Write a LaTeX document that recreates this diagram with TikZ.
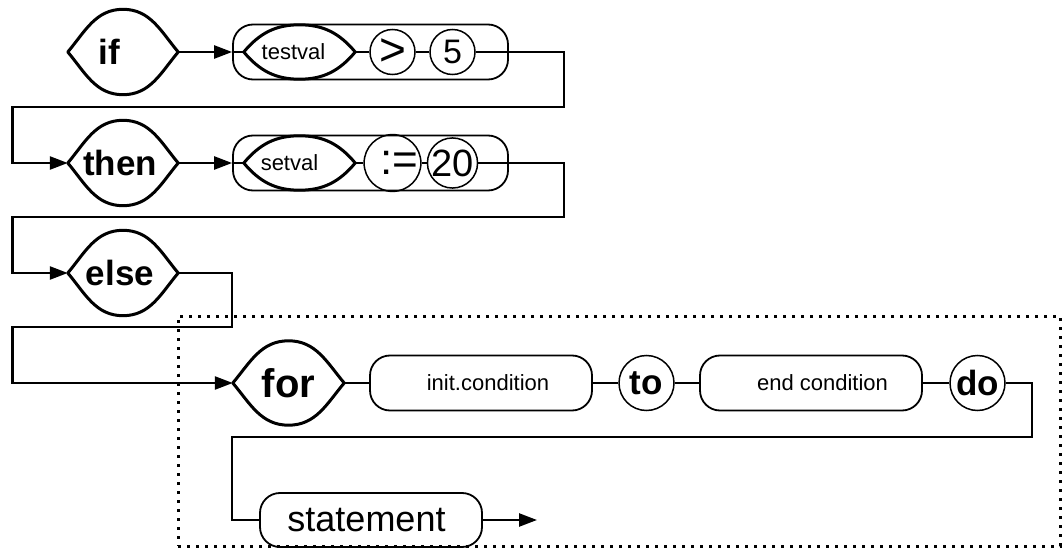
\documentclass[tikz,border=0pt]{standalone}
\usepackage{fontspec}
\setmainfont{Liberation Sans}
\usetikzlibrary{arrows.meta}
\newcommand\drawlens[1]{\draw[lensline] (#1.west) to[out=50,in=180] (#1.north) to[out=0,in=130] (#1.east) to[out=-130,in=0] (#1.south) to[out=180,in=-50] (#1.west);}
\tikzset{
 conn/.style={line width=2.4pt},
 arr/.style={conn,-{Triangle[length=18pt,width=13pt]}},
 lensnode/.style={minimum width=110pt,minimum height=85pt,inner sep=0pt},
 lensline/.style={line width=3pt,line cap=round,line join=round},
 pill/.style={draw,line width=1.8pt,rounded corners=20pt,minimum height=55pt,inner sep=0pt},
 circ/.style={draw,circle,line width=1.5pt,inner sep=0pt,minimum size=45pt},
 bigcirc/.style={circ,minimum size=55pt},
 kw/.style={font=\fontsize{35}{40}\selectfont\bfseries},
 small/.style={font=\fontsize{22}{26}\selectfont},
 dotbox/.style={draw,line width=3pt,dash pattern=on 3pt off 6pt,inner sep=0pt},
}
\begin{document}
\begin{tikzpicture}[x=1pt,y=-1pt]
\useasboundingbox (0,0) rectangle (1063,548);
% loop frame
\node[dotbox,minimum width=882pt,minimum height=230pt] (loop) at (619,431) {};
% row 1
\node[lensnode,kw] (if) at (123,52) {if\hspace*{28pt}};
\node[pill,minimum width=275pt] (g1) at (370.5,52) {};
\node[lensnode,small,minimum width=111pt,minimum height=54pt] (testval) at (299.5,52) {testval\hspace*{12pt}};
\node[circ,font=\fontsize{46}{46}\selectfont] (gt) at (392.5,52) {>};
\node[circ,font=\fontsize{34}{34}\selectfont] (five) at (452.5,52) {5};
% row 2
\node[lensnode,kw] (then) at (123,163) {then\hspace*{6pt}};
\node[pill,minimum width=275pt] (g2) at (370.5,163) {};
\node[lensnode,small,minimum width=111pt,minimum height=54pt] (setval) at (299.5,163) {setval\hspace*{20pt}};
\node[circ,font=\fontsize{44}{44}\selectfont] (assign) at (392.5,163) {\hspace*{14pt}:=};
\node[circ,font=\fontsize{38}{38}\selectfont] (twenty) at (452.5,163) {20};
% row 3
\node[lensnode,kw] (else) at (123,273) {else\hspace*{6pt}};
% row 4
\node[lensnode,minimum width=111pt,minimum height=84pt,font=\fontsize{40}{44}\selectfont\bfseries] (for) at (288.5,383) {for};
\node[pill,small,minimum width=222pt] (init) at (481,383) {\hspace*{14pt}init.condition};
\node[bigcirc,kw] (to) at (646.5,383) {to};
\node[pill,small,minimum width=222pt] (endc) at (811,383) {\hspace*{23pt}end condition};
\node[bigcirc,kw] (do) at (977.5,383) {do};
% row 5
\node[pill,minimum width=222pt,minimum height=54pt,font=\fontsize{36}{40}\selectfont] (stmt) at (371,520) {statement\hspace*{9pt}};
% lens outlines
\drawlens{if}
\drawlens{testval}
\drawlens{then}
\drawlens{setval}
\drawlens{else}
\drawlens{for}
% turn points
\coordinate (r1) at (564,107); \coordinate (l1) at (12.5,107);
\coordinate (r2) at (564,217); \coordinate (l2) at (12.5,217);
\coordinate (r3) at (232,327); \coordinate (l3) at (12.5,327);
\coordinate (r4) at (1032,437); \coordinate (l4) at (232,437);
\coordinate (out) at (537,520);
% connectors
\draw[arr] (if.east) -- (g1.west);
\draw[conn] (g1.west) -- (testval.west);
\draw[conn] (testval.east) -- (gt.west);
\draw[conn] (gt.east) -- (five.west);
\draw[arr] (five.east) -| (r1) -- (l1) |- (then.west);
\draw[arr] (then.east) -- (g2.west);
\draw[conn] (g2.west) -- (setval.west);
\draw[conn] (setval.east) -- (assign.west);
\draw[conn] (assign.east) -- (twenty.west);
\draw[arr] (twenty.east) -| (r2) -- (l2) |- (else.west);
\draw[arr] (else.east) -| (r3) -- (l3) |- (for.west);
\draw[conn] (for.east) -- (init.west);
\draw[conn] (init.east) -- (to.west);
\draw[conn] (to.east) -- (endc.west);
\draw[conn] (endc.east) -- (do.west);
\draw[conn] (do.east) -| (r4) -- (l4) |- (stmt.west);
\draw[arr] (stmt.east) -- (out);
\end{tikzpicture}
\end{document}
